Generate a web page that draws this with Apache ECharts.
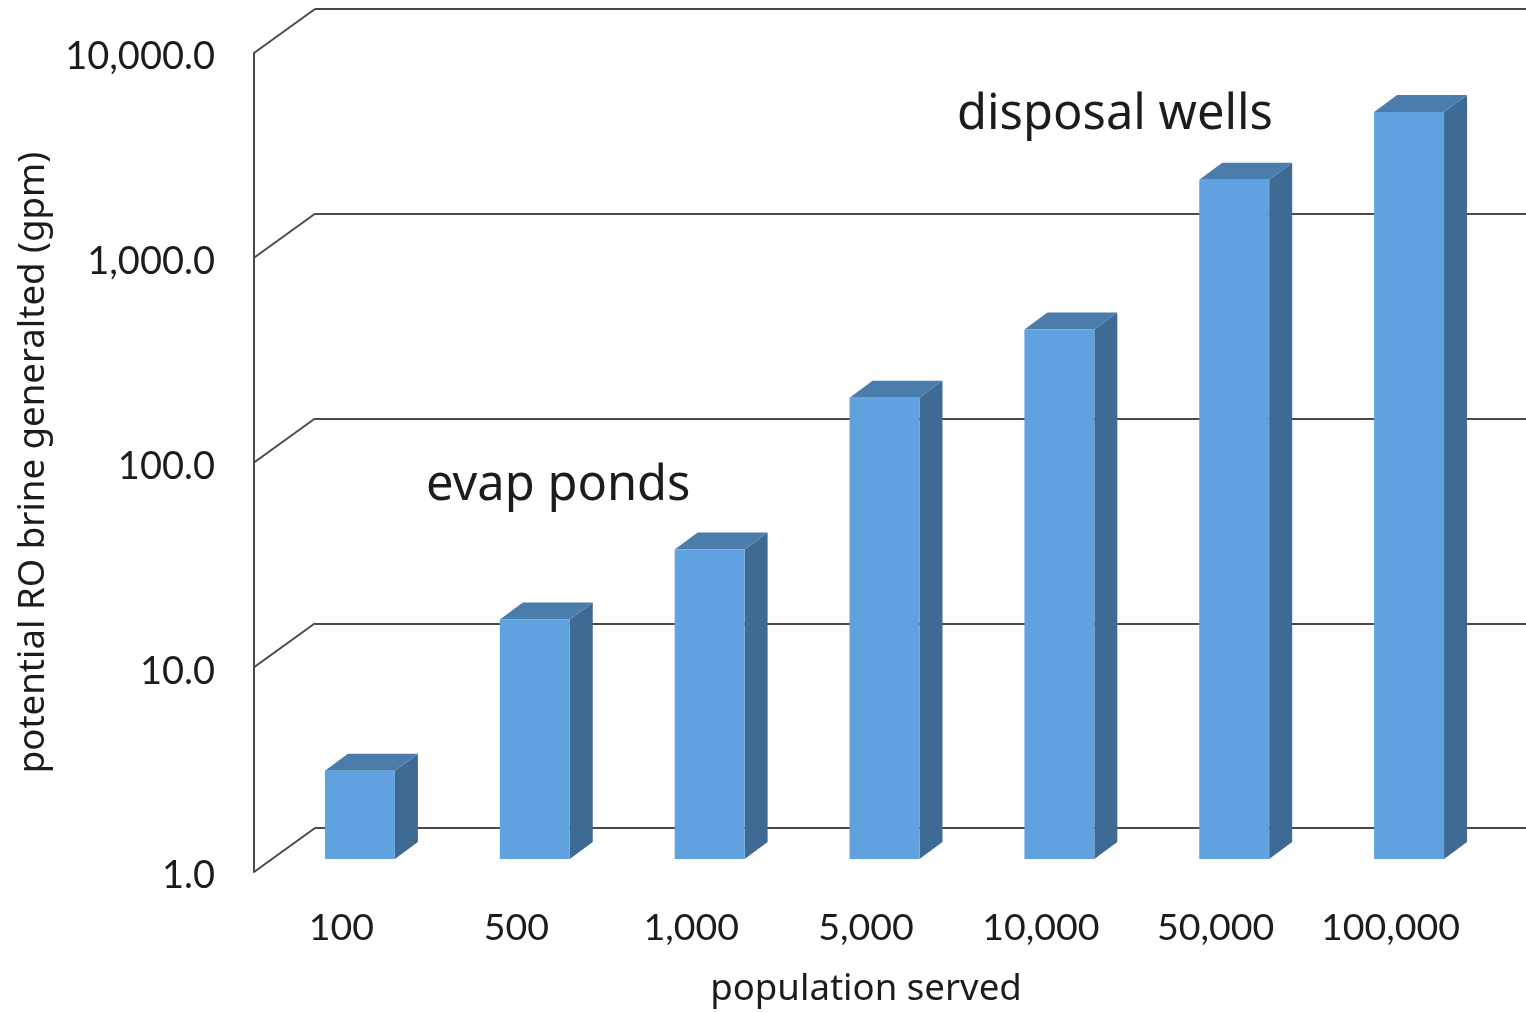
<!DOCTYPE html>
<html>
<head>
<meta charset="utf-8">
<style>html,body{margin:0;padding:0;background:#fff}#c{width:1526px;height:1012px}</style>
<script src="https://cdn.jsdelivr.net/npm/echarts@6/dist/echarts.min.js"></script>
</head>
<body>
<div id="c"></div>
<script>
const categories = ['100','500','1,000','5,000','10,000','50,000','100,000'];
const brineValues = [2.7, 14.8, 32.5, 179, 386, 2080, 4450];
const yTicks = [1, 10, 100, 1000, 10000];
const yTickLabels = ['1.0','10.0','100.0','1,000.0','10,000.0'];
const xAxisTitle = 'population served';
const yAxisTitle = 'potential RO brine generalted (gpm)';
const annotations = ['evap ponds', 'disposal wells'];

const FONT = 'Lato';
const TITLE_FONT = '"Noto Sans"';
const WALL_DX = 61, WALL_DY = -44;
const BAR_DX = 18.5, BAR_DY = -13, BAR_RATIO = 0.4, DEPTH_X = 23, DEPTH_Y = -17;
const LINE = '#4a4a4a';
const TEXT = '#1c1c1c';

const chart = echarts.init(document.getElementById('c'), null, {renderer:'canvas'});
chart.setOption({
  animation:false,
  backgroundColor:'#fff',
  grid:[
    {left:254, top:53, width:1224, height:819, outerBoundsMode:'none'},
    {left:254+WALL_DX, top:53+WALL_DY, right:0, height:819, outerBoundsMode:'none'}
  ],
  xAxis:[
    {type:'category', gridIndex:0, data:categories,
     axisLine:{show:false}, axisTick:{show:false}, splitLine:{show:false},
     axisLabel:{color:TEXT, fontFamily:FONT, fontSize:37.5, margin:37, interval:0},
     name:xAxisTitle, nameLocation:'middle', nameGap:99,
     nameTextStyle:{color:TEXT, fontFamily:TITLE_FONT, fontSize:36.6}},
    {type:'value', gridIndex:1, min:0, max:1, show:false}
  ],
  yAxis:[
    {type:'log', gridIndex:0, logBase:10, min:1, max:10000,
     axisLine:{show:true, onZero:false, lineStyle:{color:LINE, width:2}}, axisTick:{show:false}, splitLine:{show:false},
     axisLabel:{color:TEXT, fontFamily:FONT, fontSize:38, margin:39, verticalAlign:'top', lineHeight:8,
       formatter:v => yTickLabels[yTicks.indexOf(Math.round(v))]},
     name:yAxisTitle, nameLocation:'middle', nameGap:202,
     nameTextStyle:{color:TEXT, fontFamily:TITLE_FONT, fontSize:36.6}},
    {type:'log', gridIndex:1, logBase:10, min:1, max:10000,
     axisLine:{show:false}, axisTick:{show:false}, axisLabel:{show:false},
     splitLine:{show:true, lineStyle:{color:LINE, width:2}}}
  ],
  series:[
    {type:'custom', xAxisIndex:0, yAxisIndex:0, coordinateSystem:'cartesian2d', z:1,
     data:yTicks.map(v=>[0,v]), silent:true,
     renderItem:(params,api)=>{
       const y = api.coord([0,api.value(1)])[1], x = params.coordSys.x;
       return {type:'line', shape:{x1:x,y1:y,x2:x+WALL_DX,y2:y+WALL_DY},
               style:{stroke:LINE, lineWidth:2}};
     }},
    {type:'custom', xAxisIndex:0, yAxisIndex:0, coordinateSystem:'cartesian2d', z:5,
     data:brineValues.map((v,i)=>[i,v]), silent:true,
     renderItem:(params,api)=>{
       const top = api.coord([api.value(0),api.value(1)]);
       const base = api.coord([api.value(0),1]);
       const w = api.size([1,1])[0]*BAR_RATIO;
       const x0 = top[0]+BAR_DX-w/2, x1 = x0+w;
       const yt = top[1]+BAR_DY, yb = base[1]+BAR_DY;
       return {type:'group', children:[
         {type:'polygon', shape:{points:[[x1,yt],[x1+DEPTH_X,yt+DEPTH_Y],[x1+DEPTH_X,yb+DEPTH_Y],[x1,yb]]}, style:{fill:'#3f6a94'}},
         {type:'polygon', shape:{points:[[x0,yt],[x0+DEPTH_X,yt+DEPTH_Y],[x1+DEPTH_X,yt+DEPTH_Y],[x1,yt]]}, style:{fill:'#4a7dac'}},
         {type:'rect', shape:{x:x0,y:yt,width:w,height:yb-yt}, style:{fill:'#60a2e0'}}
       ]};
     }}
  ],
  graphic:[
    {type:'text', left:426, top:462, z:10, style:{text:annotations[0], fill:TEXT, font:'48.8px '+TITLE_FONT}},
    {type:'text', left:957, top:91, z:10, style:{text:annotations[1], fill:TEXT, font:'48.8px '+TITLE_FONT}}
  ]
});
</script>
</body>
</html>
